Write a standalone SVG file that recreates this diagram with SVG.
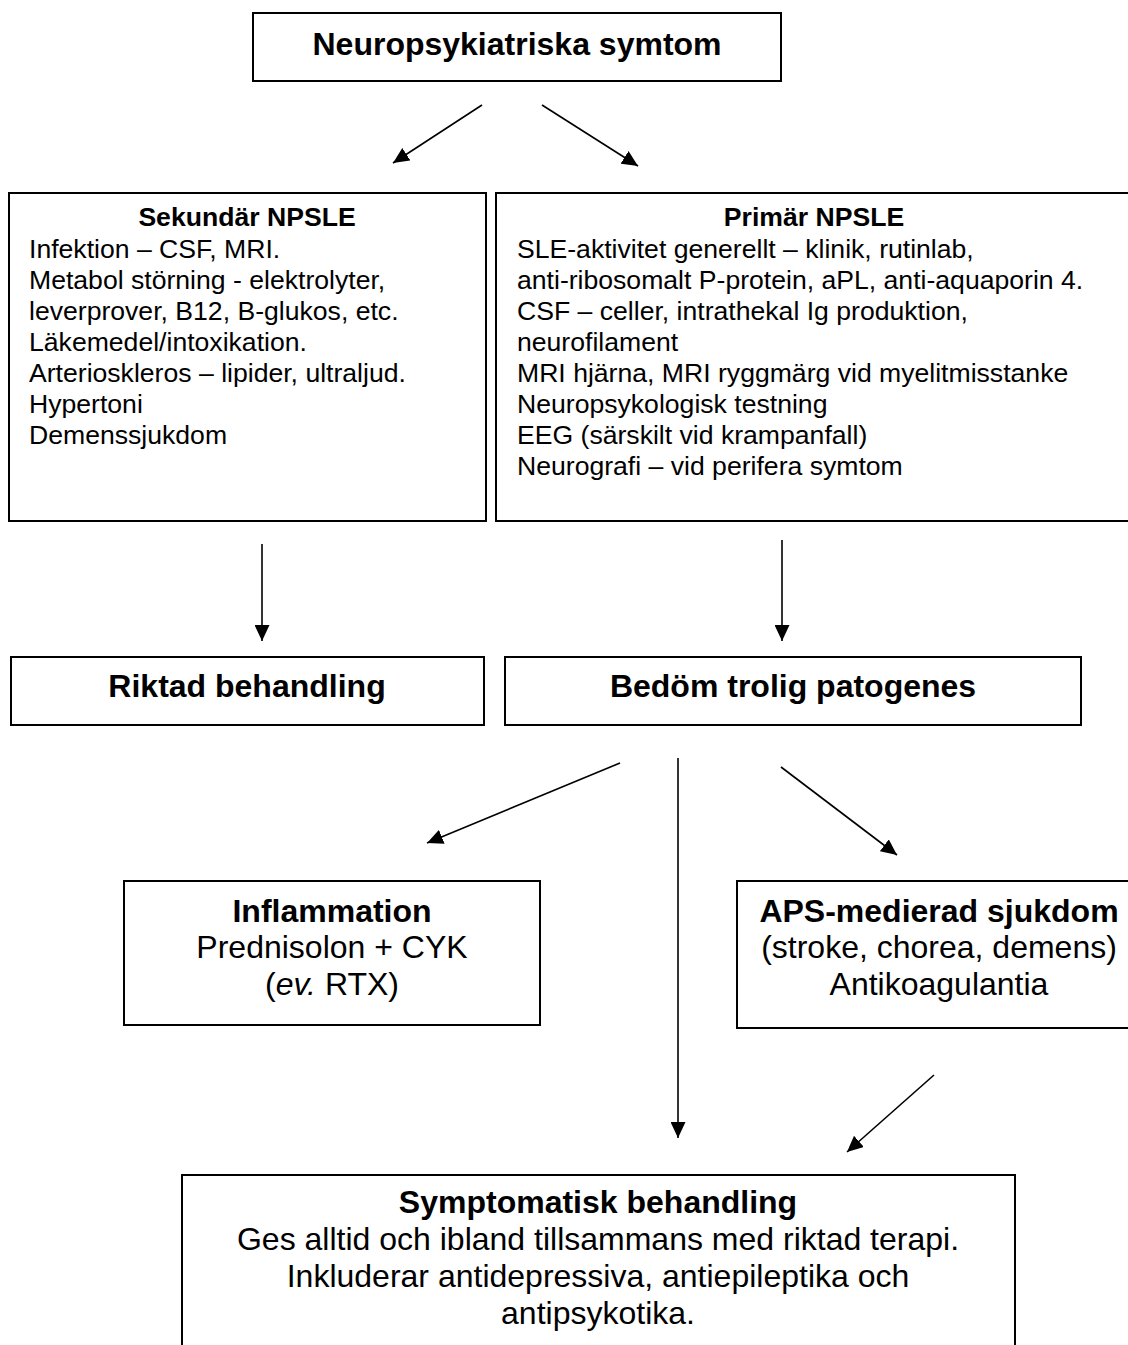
<svg xmlns="http://www.w3.org/2000/svg" width="1128" height="1345" viewBox="0 0 1128 1345">
<style>
  .box { fill: #ffffff; stroke: #000000; stroke-width: 2; }
  .t { font-family: "Liberation Sans", Arial, sans-serif; fill: #000000; }
  .big { font-size: 32px; }
  .sm { font-size: 26.6px; }
  .b { font-weight: bold; }
  .c { text-anchor: middle; }
  .conn line { stroke: #000000; stroke-width: 1.6; marker-end: url(#ah); }
</style>
<defs>
  <marker id="ah" markerUnits="userSpaceOnUse" viewBox="0 0 16 15" refX="16" refY="7.5" markerWidth="16" markerHeight="15" orient="auto">
    <path d="M0,0 L16,7.5 L0,15 Z" fill="#000000"/>
  </marker>
</defs>
<rect width="1128" height="1345" fill="#ffffff"/>

<g id="node-neuro">
  <rect class="box" x="253" y="13" width="528" height="68"/>
  <text class="t big b c" x="517" y="55">Neuropsykiatriska symtom</text>
</g>

<g id="node-sekundar">
  <rect class="box" x="9" y="193" width="477" height="328"/>
  <text class="t sm b c" x="247" y="226">Sekundär NPSLE</text>
  <text class="t sm" x="29" y="258">Infektion – CSF, MRI.</text>
  <text class="t sm" x="29" y="289">Metabol störning - elektrolyter,</text>
  <text class="t sm" x="29" y="320">leverprover, B12, B-glukos, etc.</text>
  <text class="t sm" x="29" y="351">Läkemedel/intoxikation.</text>
  <text class="t sm" x="29" y="382">Arterioskleros – lipider, ultraljud.</text>
  <text class="t sm" x="29" y="413">Hypertoni</text>
  <text class="t sm" x="29" y="444">Demenssjukdom</text>
</g>

<g id="node-primar">
  <rect class="box" x="496" y="193" width="640" height="328"/>
  <text class="t sm b c" x="814" y="226">Primär NPSLE</text>
  <text class="t sm" x="517" y="258">SLE-aktivitet generellt – klinik, rutinlab,</text>
  <text class="t sm" x="517" y="289">anti-ribosomalt P-protein, aPL, anti-aquaporin 4.</text>
  <text class="t sm" x="517" y="320">CSF – celler, intrathekal Ig produktion,</text>
  <text class="t sm" x="517" y="351">neurofilament</text>
  <text class="t sm" x="517" y="382">MRI hjärna, MRI ryggmärg vid myelitmisstanke</text>
  <text class="t sm" x="517" y="413">Neuropsykologisk testning</text>
  <text class="t sm" x="517" y="444">EEG (särskilt vid krampanfall)</text>
  <text class="t sm" x="517" y="475">Neurografi – vid perifera symtom</text>
</g>

<g id="node-riktad">
  <rect class="box" x="11" y="657" width="473" height="68"/>
  <text class="t big b c" x="247" y="697">Riktad behandling</text>
</g>

<g id="node-bedom">
  <rect class="box" x="505" y="657" width="576" height="68"/>
  <text class="t big b c" x="793" y="697">Bedöm trolig patogenes</text>
</g>

<g id="node-inflammation">
  <rect class="box" x="124" y="881" width="416" height="144"/>
  <text class="t big b c" x="332" y="922">Inflammation</text>
  <text class="t big c" x="332" y="958">Prednisolon + CYK</text>
  <text class="t big c" x="332" y="995">(<tspan font-style="italic">ev.</tspan> RTX)</text>
</g>

<g id="node-aps">
  <rect class="box" x="737" y="881" width="404" height="147"/>
  <text class="t big b c" x="939" y="922">APS-medierad sjukdom</text>
  <text class="t big c" x="939" y="958">(stroke, chorea, demens)</text>
  <text class="t big c" x="939" y="995">Antikoagulantia</text>
</g>

<g id="node-symptomatisk">
  <rect class="box" x="182" y="1175" width="833" height="190"/>
  <text class="t big b c" x="598" y="1213">Symptomatisk behandling</text>
  <text class="t big c" x="598" y="1250">Ges alltid och ibland tillsammans med riktad terapi.</text>
  <text class="t big c" x="598" y="1287">Inkluderar antidepressiva, antiepileptika och</text>
  <text class="t big c" x="598" y="1324">antipsykotika.</text>
</g>

<g id="connectors" class="conn">
  <line x1="482" y1="105" x2="393" y2="163"/>
  <line x1="542" y1="105" x2="638" y2="166"/>
  <line x1="262" y1="544" x2="262" y2="641"/>
  <line x1="782" y1="540" x2="782" y2="641"/>
  <line x1="620" y1="763" x2="427" y2="843"/>
  <line x1="678" y1="758" x2="678" y2="1138"/>
  <line x1="781" y1="767" x2="897" y2="855"/>
  <line x1="934" y1="1075" x2="847" y2="1152"/>
</g>
</svg>
